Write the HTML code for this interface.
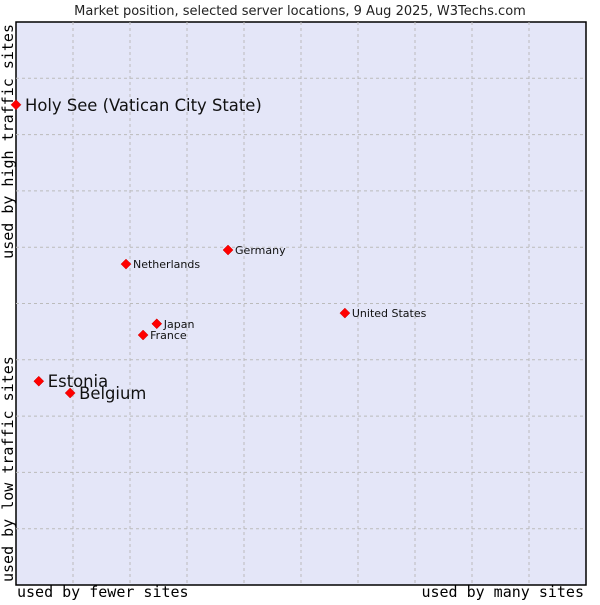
<!DOCTYPE html>
<html><head><meta charset="utf-8"><style>
body{margin:0;background:#fff;width:600px;height:600px;overflow:hidden}
svg text{font-family:"DejaVu Sans","Liberation Sans",sans-serif}
</style></head><body>
<svg id="chart" width="600" height="600">
<text x="300" y="15" text-anchor="middle" font-size="13" fill="#222">Market position, selected server locations, 9 Aug 2025, W3Techs.com</text>
<rect x="16" y="22" width="570" height="563" fill="#e4e6f8" stroke="#000" stroke-width="1.5"/>
<g id="grid"></g>
<g id="points"></g>
<text x="17" y="597" font-size="15" style="font-family:'DejaVu Sans Mono','Liberation Mono',monospace">used by fewer sites</text>
<text x="584" y="597" text-anchor="end" font-size="15" style="font-family:'DejaVu Sans Mono','Liberation Mono',monospace">used by many sites</text>
<text transform="translate(13,582) rotate(-90)" font-size="15" style="font-family:'DejaVu Sans Mono','Liberation Mono',monospace">used by low traffic sites</text>
<text transform="translate(13,24) rotate(-90)" text-anchor="end" font-size="15" style="font-family:'DejaVu Sans Mono','Liberation Mono',monospace">used by high traffic sites</text>
</svg>
<script>
const countries=["Holy See (Vatican City State)","Estonia","Belgium","Netherlands","Germany","United States","Japan","France"];
const usage=[0,0.40,0.95,1.93,3.72,5.77,2.47,2.23];
const traffic=[8.53,3.62,3.41,5.70,5.95,4.83,4.64,4.44];
const big=[true,true,true,false,false,false,false,false];
const NS="http://www.w3.org/2000/svg";
const X=v=>16+v*57, Y=v=>585-v*56.3;
const grid=document.getElementById('grid'), pts=document.getElementById('points');
for(let i=1;i<10;i++){
  let l=document.createElementNS(NS,'line');
  l.setAttribute('x1',X(i));l.setAttribute('x2',X(i));l.setAttribute('y1',22);l.setAttribute('y2',585);
  l.setAttribute('stroke','#bbb');l.setAttribute('stroke-dasharray','3,3');
  
  
  grid.appendChild(l);
  let h=document.createElementNS(NS,'line');
  h.setAttribute('x1',16);h.setAttribute('x2',586);h.setAttribute('y1',Y(i));h.setAttribute('y2',Y(i));
  h.setAttribute('stroke','#bbb');h.setAttribute('stroke-dasharray','3,3');
  
  
  grid.appendChild(h);
}
countries.forEach((c,i)=>{
  const x=X(usage[i]),y=Y(traffic[i]);
  const p=document.createElementNS(NS,'path');
  p.setAttribute('d',`M${x-5} ${y}L${x} ${y-5}L${x+5} ${y}L${x} ${y+5}Z`);
  p.setAttribute('fill','#f00');p.setAttribute('stroke','#c00');p.setAttribute('stroke-width','0.5');
  
  
  pts.appendChild(p);
  const t=document.createElementNS(NS,'text');
  t.setAttribute('x',x+(big[i]?9:7));t.setAttribute('y',y+(big[i]?6:4));
  t.setAttribute('font-size',big[i]?16.4:11);t.setAttribute('fill','#111');
  t.textContent=c;
  
  
  pts.appendChild(t);
});
</script>
</body></html>
